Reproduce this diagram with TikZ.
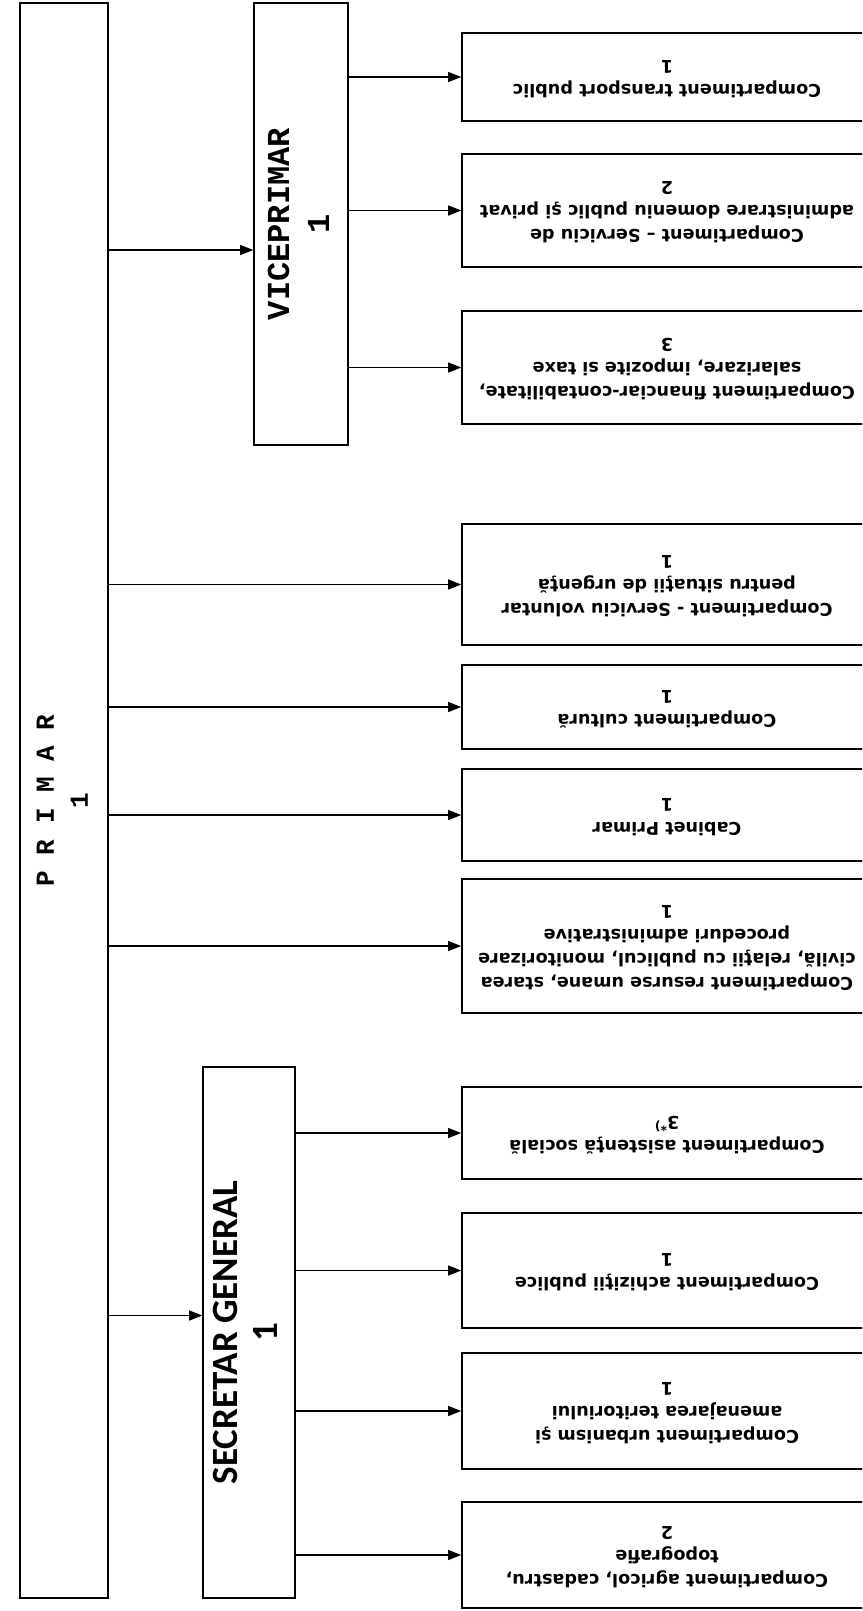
\documentclass[tikz,border=0pt]{standalone}
\usepackage{fontspec}
\setmainfont{DejaVu Sans}
\newfontfamily\courface{Liberation Mono}
\newfontfamily\calface{Carlito}
\usetikzlibrary{arrows.meta}
\newcommand{\upturn}[1]{\rotatebox{90}{\begin{tabular}{@{}c@{}}#1\end{tabular}}}
\newcommand{\overturn}[1]{\rotatebox{180}{\begin{tabular}{@{}c@{}}#1\end{tabular}}}

\begin{document}
\begin{tikzpicture}[x=1pt,y=-1pt,
		head/.style={draw, line width=1.6pt, inner sep=0pt},
		box/.style={draw, line width=1.6pt, inner sep=0pt, minimum width=410pt,
			font=\bfseries\fontsize{17.6}{24}\selectfont},
		link/.style={line width=1.2pt, -{Triangle[length=13pt,width=10pt]}}]
			%%%%% START %%%%%
			\useasboundingbox (0,0) rectangle (862,1611);
			\clip (0,0) rectangle (862,1611);
			
			\node[head, minimum width=88pt, minimum height=1595pt] (primar) at (64,800.5)
				{\courface\bfseries\fontsize{26}{34}\selectfont\upturn{P R I M A R\\1}};
			\node[head, minimum width=94pt, minimum height=442pt] (vice) at (301,224)
				{\courface\bfseries\fontsize{32}{40}\selectfont\upturn{VICEPRIMAR\\1}};
			\node[head, minimum width=92pt, minimum height=531pt] (secretar) at (249,1332.5)
				{\calface\bfseries\fontsize{37}{40}\selectfont\upturn{SECRETAR GENERAL\\1}};
			
			\node[box, minimum height=88pt] (transport) at (667,77)
				{\overturn{Compartiment transport public\\1}};
			\node[box, minimum height=113pt] (domeniu) at (667,210.5)
				{\overturn{Compartiment – Serviciu de\\administrare domeniu public şi privat\\2}};
			\node[box, minimum height=113pt] (financiar) at (667,367.5)
				{\overturn{Compartiment financiar-contabilitate,\\salarizare, impozite si taxe\\3}};
			
			\node[box, minimum height=121pt] (voluntar) at (667,584.5)
				{\overturn{Compartiment - Serviciu voluntar\\pentru situaţii de urgenţă\\1}};
			\node[box, minimum height=84pt] (cultura) at (667,707)
				{\overturn{Compartiment cultură\\1}};
			\node[box, minimum height=92pt] (cabinet) at (667,815)
				{\overturn{Cabinet Primar\\1}};
			\node[box, minimum height=134pt] (resurse) at (667,946)
				{\overturn{Compartiment resurse umane, starea\\civilă, relaţii cu publicul, monitorizare\\proceduri administrative\\1}};
			
			\node[box, minimum height=92pt] (asistenta) at (667,1133)
				{\overturn{Compartiment asistenţă socială\\3\textsuperscript{*)}}};
			\node[box, minimum height=115pt] (achizitii) at (667,1270.5)
				{\overturn{Compartiment achiziţii publice\\1}};
			\node[box, minimum height=116pt] (urbanism) at (667,1411)
				{\overturn{Compartiment urbanism şi\\amenajarea teritoriului\\1}};
			\node[box, minimum height=106pt] (agricol) at (667,1555)
				{\overturn{Compartiment agricol, cadastru,\\topografie\\2}};
			
			\coordinate (vin) at ([yshift=-26pt]vice.west);
			\coordinate (sin) at ([yshift=17pt]secretar.west);
			\draw[link] (primar.east |- vin) -- (vin);
			\draw[link] (primar.east |- sin) -- (sin);
			
			\foreach \b in {transport,domeniu,financiar}
				\draw[link] (vice.east |- \b.west) -- (\b.west);
			\foreach \b in {voluntar,cultura,cabinet,resurse}
				\draw[link] (primar.east |- \b.west) -- (\b.west);
			\foreach \b in {asistenta,achizitii,urbanism,agricol}
				\draw[link] (secretar.east |- \b.west) -- (\b.west);
			%%%%% END %%%%%
		\end{tikzpicture}
\end{document}
